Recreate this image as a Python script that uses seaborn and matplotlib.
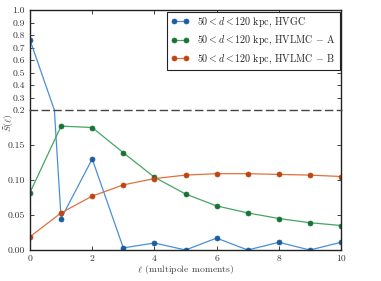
import numpy as np
import pandas as pd
import matplotlib
matplotlib.use("Agg")
import matplotlib.pyplot as plt
import seaborn as sns

ell = [0, 1, 2, 3, 4, 5, 6, 7, 8, 9, 10]
hvgc = [0.76, 0.045, 0.130, 0.003, 0.010, 0.0, 0.017, 0.0, 0.011, 0.0, 0.011]
hvlmc_a = [0.082, 0.177, 0.175, 0.139, 0.104, 0.080, 0.063, 0.053, 0.045, 0.039, 0.035]
hvlmc_b = [0.019, 0.053, 0.077, 0.093, 0.102, 0.107, 0.109, 0.109, 0.108, 0.107, 0.105]
labels = [r'$50 < d < 120$ kpc, HVGC',
          r'$50 < d < 120$ kpc, HVLMC $-$ A',
          r'$50 < d < 120$ kpc, HVLMC $-$ B']
line_colors = ['#4a8fd6', '#46a564', '#e0703c']
mark_colors = ['#1d5c9e', '#1a7335', '#bf4510']
upper_ticks = [0.2, 0.3, 0.4, 0.5, 0.6, 0.7, 0.8, 0.9, 1.0]
lower_ticks = [0.00, 0.05, 0.10, 0.15]
x_ticks = [0, 2, 4, 6, 8, 10]

sns.set_style('ticks')
plt.rcParams['font.family'] = ['cmr10', 'DejaVu Serif']
plt.rcParams['mathtext.fontset'] = 'cm'
plt.rcParams['axes.formatter.use_mathtext'] = True
plt.rcParams['xtick.direction'] = 'in'
plt.rcParams['ytick.direction'] = 'in'
plt.rcParams['axes.edgecolor'] = '#222222'
plt.rcParams['axes.linewidth'] = 1.0

df = pd.concat([
    pd.DataFrame({'ell': ell, 'S': vals, 'series': lab})
    for vals, lab in zip([hvgc, hvlmc_a, hvlmc_b], labels)
])

fig = plt.figure(figsize=(3.81, 2.81), dpi=100)
gs = fig.add_gridspec(2, 1, height_ratios=[100, 140], hspace=0,
                      left=30/381, right=341/381, bottom=1-250/281, top=1-10/281)
ax_u = fig.add_subplot(gs[0])
ax_l = fig.add_subplot(gs[1], sharex=ax_u)

for ax in (ax_u, ax_l):
    for lab, lc, mc in zip(labels, line_colors, mark_colors):
        sub = df[df['series'] == lab]
        sns.lineplot(data=sub, x='ell', y='S', ax=ax, color=lc, marker='o',
                     markersize=3.6, markerfacecolor=mc, markeredgecolor=mc,
                     markeredgewidth=0.5, linewidth=0.9, label=lab, legend=False)
    ax.set_xlim(0, 10)
    ax.set_xlabel('')
    ax.set_ylabel('')
    ax.tick_params(labelsize=7, length=3, width=0.6, colors='#222222',
                   labelcolor='#333333', left=True, right=True)

ax_u.set_ylim(0.2, 1.0)
ax_u.set_yticks(upper_ticks)
ax_u.set_yticklabels([f'{t:.1f}' for t in upper_ticks])
ax_u.spines['bottom'].set_visible(False)
ax_u.tick_params(axis='x', bottom=False, top=True, labelbottom=False)

ax_l.set_ylim(0.0, 0.2)
ax_l.set_yticks(lower_ticks)
ax_l.set_yticklabels([f'{t:.2f}' for t in lower_ticks])
ax_l.spines['top'].set_linestyle((0, (5, 3.5)))
ax_l.spines['top'].set_color('#444444')
ax_l.spines['top'].set_linewidth(1.0)
ax_l.tick_params(axis='x', bottom=True, top=False)
ax_l.set_xticks(x_ticks)
ax_l.set_xticklabels([str(t) for t in x_ticks])

handles = ax_u.get_lines()[:3]
leg = ax_u.legend(handles, labels, loc='upper right', numpoints=2, fontsize=7.2,
                  handlelength=1.8, frameon=True, fancybox=False, framealpha=1,
                  edgecolor='#222222', borderaxespad=0.15, handletextpad=0.8,
                  labelspacing=0.5, borderpad=0.4)
leg.get_frame().set_linewidth(0.8)

fig.text(8.5/381, 1-123/281, r'$\widetilde{S}(\ell)$', rotation=90,
         ha='center', va='center', fontsize=7, color='#444444')
fig.text(185.5/381, 1-270/281, r'$\ell$ (multipole moments)',
         ha='center', va='center', fontsize=7, color='#444444')

fig.savefig('out.png', dpi=100)
